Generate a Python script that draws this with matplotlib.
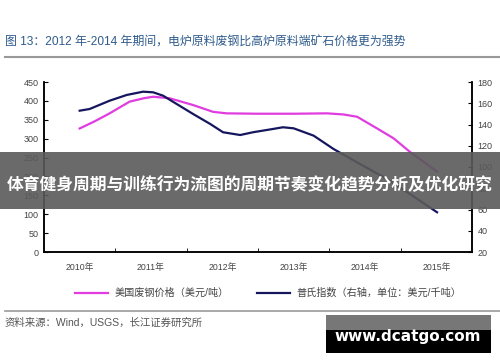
import numpy as np
import matplotlib.pyplot as plt
from matplotlib.patches import Rectangle

plt.rcParams['font.family'] = ['Liberation Sans', 'Noto Sans CJK SC', 'DejaVu Sans']

# 美国废钢价格 (left axis)
scrap_t = [2010.0, 2010.2, 2010.42, 2010.7, 2010.9, 2011.03, 2011.26, 2011.59, 2011.87, 2012.06,
           2012.5, 2013.0, 2013.47, 2013.7, 2013.89, 2014.17, 2014.4, 2014.63, 2015.01]
scrap_v = [327, 345, 367, 398, 407, 411, 407, 389, 371, 367,
           366, 366, 367, 364, 358, 327, 301, 265, 213]

# 普氏指数 (right axis)
ore_t = [2010.0, 2010.14, 2010.42, 2010.66, 2010.89, 2011.03, 2011.17, 2011.36, 2011.59,
         2011.83, 2012.01, 2012.25, 2012.43, 2012.71, 2012.85, 2013.0, 2013.28, 2013.56,
         2013.93, 2014.31, 2014.63, 2015.01]
ore_v = [153, 154.6, 162.4, 167.8, 170.9, 170.3, 167.1, 159.3, 149.9,
         140.5, 132.7, 130.1, 132.7, 135.8, 137.4, 136.4, 129.5, 116.9,
         102.8, 88.7, 74.6, 57.4]

years = [2010, 2011, 2012, 2013, 2014, 2015]
year_labels = [f'{y}年' for y in years]
left_ticks = list(range(0, 451, 50))
right_ticks = list(range(20, 181, 20))

pink = '#e03ce0'
navy = '#16165e'

fig = plt.figure(figsize=(5, 3.62), dpi=100)
W, H = 500, 362

ax = fig.add_axes([44 / W, 1 - 252 / H, (472 - 44) / W, (252 - 82) / H])
ax2 = ax.twinx()

l1, = ax.plot(scrap_t, scrap_v, color=pink, lw=1.6, label='美国废钢价格（美元/吨）',
              solid_joinstyle='round')
l2, = ax2.plot(ore_t, ore_v, color=navy, lw=1.6, label='普氏指数（右轴，单位：美元/千吨）',
               solid_joinstyle='round')

ax.set_xlim(2009.5, 2015.5)
ax.set_ylim(0, 450)
ax2.set_ylim(20, 180)
ax.set_yticks(left_ticks)
ax2.set_yticks(right_ticks)
ax.set_xticks(years)
ax.set_xticklabels(year_labels)
ax.set_xticks(np.arange(2010.5, 2015, 1), minor=True)

for a in (ax, ax2):
    a.spines['top'].set_visible(False)
    for s in ('left', 'right', 'bottom'):
        a.spines[s].set_color('black')
        a.spines[s].set_linewidth(1.1)
ax.tick_params(axis='x', which='major', length=0, labelsize=6.3, labelcolor='#444', pad=8)
ax.tick_params(axis='x', which='minor', length=3, direction='in', color='black')
ax.tick_params(axis='y', length=3, direction='in', labelsize=6.5, labelcolor='#444', pad=4)
ax2.tick_params(axis='y', length=3, direction='in', labelsize=6.5, labelcolor='#444', pad=4)

# title
fig.text(5 / W, 1 - 43 / H, '图 13：2012 年-2014 年期间，电炉原料废钢比高炉原料端矿石价格更为强势',
         fontsize=8.6, color='#2f5b8c', va='center', ha='left')
fig.add_artist(plt.Line2D([5 / W, 1], [1 - 57 / H] * 2, color='#999999', lw=1.5))

# legend
fig.legend(handles=[l1, l2], loc='center', bbox_to_anchor=(0.536, 1 - 293 / H), ncol=2,
           frameon=False, fontsize=7.3, handlelength=3.3, columnspacing=2.8,
           handletextpad=0.6, labelcolor='#444')

fig.add_artist(plt.Line2D([5 / W, 1], [1 - 311 / H] * 2, color='#999999', lw=1.2))
fig.text(5 / W, 1 - 323 / H, '资料来源：Wind，USGS，长江证券研究所',
         fontsize=7.5, color='#555', va='center', ha='left')

# overlay band
fig.add_artist(Rectangle((0, 1 - 209 / H), 1, 57 / H, transform=fig.transFigure,
                         facecolor='#5a5a5a', alpha=0.9, edgecolor='none'))
fig.text(0.5, 1 - 185 / H, '体育健身周期与训练行为流图的周期节奏变化趋势分析及优化研究',
         fontsize=12.1, color='white', fontweight='bold', ha='center', va='center',
         family=['Noto Sans CJK SC', 'DejaVu Sans'])

# watermark
fig.add_artist(Rectangle((326 / W, 1 - 330 / H), 165 / W, 15 / H, transform=fig.transFigure,
                         facecolor='#777777', edgecolor='none'))
fig.add_artist(Rectangle((326 / W, 1 - 353 / H), 165 / W, 23 / H, transform=fig.transFigure,
                         facecolor='black', edgecolor='none'))
fig.text(408 / W, 1 - 337 / H, 'www.dcatgo.com', fontsize=11, color='white',
         fontweight='bold', ha='center', va='center', family='DejaVu Sans')

fig.savefig('out.png', dpi=100)
